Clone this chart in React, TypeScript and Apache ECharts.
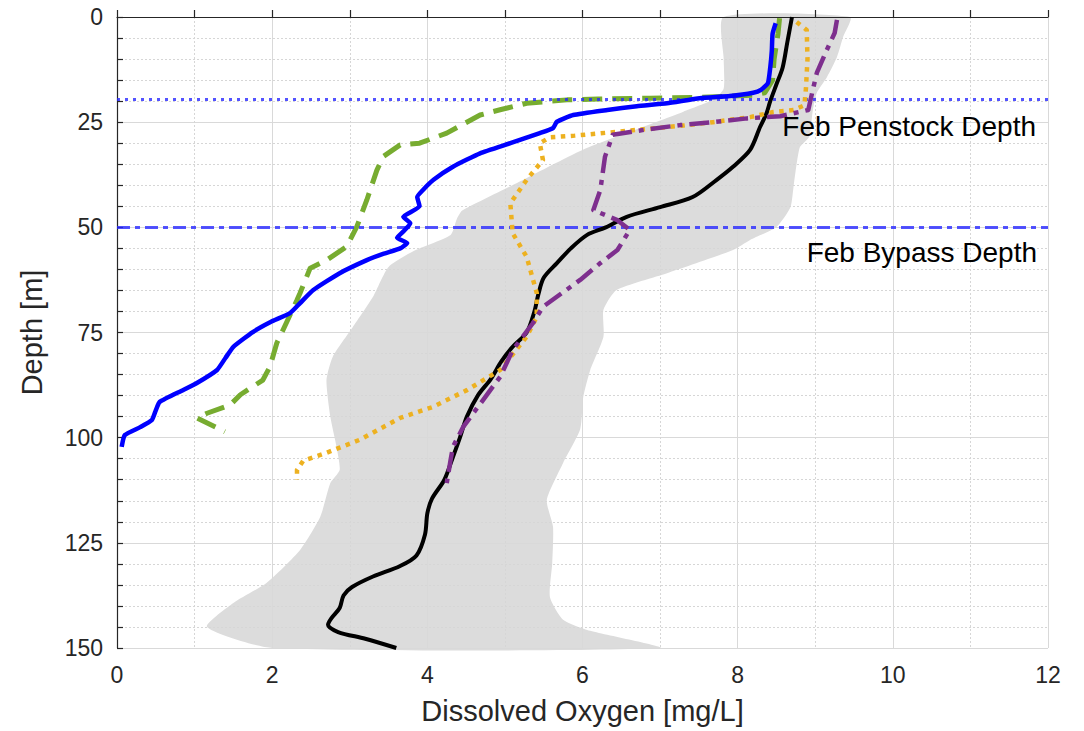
import React, { useEffect, useRef } from "react";
import * as echarts from "echarts";

// [dissolved oxygen mg/L, depth m]
const meanProfile: number[][] = [
  [8.7, 0], [8.64, 6], [8.58, 12], [8.5, 16], [8.42, 20], [8.37, 23], [8.29, 26.1], [8.16, 31.6],
  [7.94, 35.6], [7.73, 38.7], [7.42, 42.8], [7.0, 45.2], [6.57, 47.5], [6.3, 50], [6.06, 51.8],
  [5.85, 55], [5.67, 58.5], [5.5, 62], [5.43, 66], [5.38, 70], [5.28, 75], [5.1, 78.4], [4.95, 82],
  [4.82, 86], [4.65, 90], [4.51, 95], [4.42, 100], [4.33, 104.6], [4.22, 110], [4.06, 114.5],
  [4.0, 118], [3.97, 123], [3.86, 128], [3.65, 130.5], [3.3, 133], [3.03, 135.5], [2.92, 137.5],
  [2.87, 140.5], [2.76, 143], [2.72, 144.5], [2.85, 146.2], [3.2, 147.8], [3.6, 150],
];

const blueProfile: number[][] = [
  [8.49, 1.5], [8.45, 4], [8.44, 8], [8.42, 12], [8.39, 15.7], [8.3, 17.3], [8.2, 18], [7.9, 18.8],
  [7.51, 19.3], [7.09, 20.5], [6.7, 21.2], [6.32, 22.1], [5.88, 23.3], [5.67, 24.9], [5.62, 26.4],
  [5.45, 27.6], [5.07, 30], [4.68, 32.4], [4.33, 35.6], [4.08, 38.7], [3.95, 41], [3.87, 42.8],
  [3.9, 45], [3.69, 47.5], [3.78, 49], [3.69, 51], [3.61, 52.5], [3.74, 53.7], [3.65, 55],
  [3.43, 56.3], [3.22, 57.8], [2.87, 60.9], [2.53, 64.9], [2.36, 68], [2.23, 70.4], [1.98, 72.5],
  [1.75, 74.9], [1.5, 78.4], [1.4, 81], [1.29, 83.9], [1.03, 87], [0.85, 88.7], [0.55, 91.5],
  [0.5, 93.5], [0.45, 95.8], [0.3, 97.5], [0.1, 99.4], [0.06, 102.2],
];

const greenProfile: number[][] = [
  [8.54, 0.3], [8.52, 4], [8.47, 10], [8.45, 15], [8.35, 18], [8.2, 18.6], [7.5, 19.1], [6.87, 19.3],
  [6.2, 19.5], [5.8, 19.7], [5.28, 20.5], [4.95, 22], [4.68, 23.3], [4.25, 27.6], [3.9, 30],
  [3.65, 30.4], [3.43, 33.2], [3.35, 36.4], [3.22, 43.5], [3.09, 49.9], [2.96, 54.6], [2.7, 57.8],
  [2.49, 59.7], [2.36, 65.6], [2.32, 67.3], [2.14, 74.4], [2.06, 77.5], [1.97, 83.2], [1.88, 86.3],
  [1.59, 89.8], [1.46, 92.2], [1.16, 94.2], [1.03, 95.3], [1.39, 98.6],
];

const orangeProfile: number[][] = [
  [8.76, 1.2], [8.89, 3.1], [8.9, 10], [8.88, 17], [8.86, 21], [8.72, 22.1], [8.46, 22.6],
  [8.16, 23.8], [7.68, 25], [7.3, 25.8], [6.44, 27.3], [5.9, 28.2], [5.58, 28.6], [5.45, 30],
  [5.49, 34], [5.28, 38.7], [5.07, 44.3], [5.1, 51.4], [5.28, 57], [5.41, 65.6], [5.41, 71.3],
  [5.28, 76], [4.94, 83.9], [4.51, 88.7], [4.07, 92.7], [3.65, 95.3], [3.13, 100.5], [2.7, 103.6],
  [2.4, 105.5], [2.32, 107.7], [2.32, 110],
];

const purpleProfile: number[][] = [
  [9.28, 0.7], [9.25, 3.8], [9.15, 7.8], [9.02, 13.3], [8.96, 18], [8.91, 22.1], [8.55, 23.6],
  [8.12, 24.1], [7.68, 25], [7.26, 25.7], [6.8, 26.8], [6.39, 28], [6.29, 33.2], [6.23, 41.1],
  [6.14, 45.9], [6.45, 48.3], [6.61, 50.6], [6.45, 55.4], [6.23, 58.5], [5.97, 62.5], [5.49, 68.9],
  [5.36, 72.8], [5.1, 79.2], [4.94, 85.5], [4.72, 91], [4.46, 97.5], [4.33, 102.2], [4.3, 105.3],
  [4.25, 110.8],
];

const bandLeft: number[][] = [
  [7.82, 0], [7.82, 10], [7.82, 17], [7.7, 19.5], [7.3, 22.5], [6.8, 26], [6.0, 31.6], [5.15, 39.5],
  [4.45, 46], [4.38, 48], [4.3, 51.8], [3.85, 55.4], [3.5, 59.4], [3.3, 66.5], [3.04, 73.7],
  [2.78, 80.8], [2.7, 86.3], [2.75, 95], [2.83, 102.2], [2.87, 107.7], [2.75, 110.8], [2.62, 118.8],
  [2.36, 126.7], [1.93, 134.5], [1.5, 139.3], [1.16, 145], [2.0, 150],
];

const bandRight: number[][] = [
  [7.0, 150], [6.06, 145.7], [5.75, 143.3], [5.58, 137.9], [5.61, 129.8], [5.62, 121.2],
  [5.54, 114.8], [5.75, 106], [5.97, 98], [6.01, 90.3], [6.1, 83.9], [6.27, 76], [6.27, 69.6],
  [6.44, 64.9], [7.09, 60.9], [7.94, 55.4], [8.16, 53], [8.5, 49.9], [8.68, 45.2], [8.72, 40.4],
  [8.8, 31], [8.92, 28.5], [8.97, 22], [9.02, 18], [9.15, 14.3], [9.28, 9.5], [9.36, 4.7], [9.45, 0],
];

const penstockDepth = 19.5;
const bypassDepth = 50;
const penstockLabel = "Feb Penstock Depth";
const bypassLabel = "Feb Bypass Depth";

const xName = "Dissolved Oxygen [mg/L]";
const yName = "Depth [m]";

const FONT = "'Liberation Sans', Arial, Helvetica, sans-serif";
const AX = "#262626";

export default function App() {
  const ref = useRef<HTMLDivElement>(null);

  useEffect(() => {
    if (!ref.current) return;
    const chart = echarts.init(ref.current, undefined, { renderer: "svg" });
    const bandPoly = [...bandLeft, ...bandRight];

    const lineSeries = (
      data: number[][],
      color: string,
      width: number,
      type: any,
      z: number,
      smooth: number | boolean = false
    ) => ({
      type: "line",
      data,
      showSymbol: false,
      symbol: "none",
      smooth,
      z,
      lineStyle: { color, width, type, cap: "butt", join: "round" },
    });

    chart.setOption({
      animation: false,
      textStyle: { fontFamily: FONT },
      grid: { left: 117, right: 36, top: 17, bottom: 83, containLabel: false },
      xAxis: {
        type: "value",
        min: 0,
        max: 12,
        interval: 2,
        name: xName,
        nameLocation: "middle",
        nameGap: 48,
        nameTextStyle: { fontSize: 29, color: AX, fontFamily: FONT },
        axisLine: { show: true, lineStyle: { color: AX, width: 1.2 } },
        axisTick: { show: true, inside: true, length: 7, lineStyle: { color: AX, width: 1.2 } },
        minorTick: { show: true, splitNumber: 2, length: 7, lineStyle: { color: AX, width: 1.2 } },
        axisLabel: { fontSize: 23, color: AX, margin: 15, fontFamily: FONT },
        splitLine: { show: true, lineStyle: { color: "#d9d9d9", width: 1 } },
        minorSplitLine: { show: true, lineStyle: { color: "#d6d6d6", width: 1, type: [2, 2] } },
      },
      yAxis: {
        type: "value",
        inverse: true,
        min: 0,
        max: 150,
        interval: 25,
        name: yName,
        nameLocation: "middle",
        nameGap: 71,
        nameTextStyle: { fontSize: 29, color: AX, fontFamily: FONT },
        axisLine: { show: true, lineStyle: { color: AX, width: 1.2 } },
        axisTick: { show: true, inside: true, length: 6, lineStyle: { color: AX, width: 1.2 } },
        minorTick: { show: true, splitNumber: 5, length: 6, lineStyle: { color: AX, width: 1.2 } },
        axisLabel: { fontSize: 23, color: AX, margin: 14, fontFamily: FONT },
        splitLine: { show: true, lineStyle: { color: "#d9d9d9", width: 1 } },
        minorSplitLine: { show: true, lineStyle: { color: "#d6d6d6", width: 1, type: [2, 2] } },
      },
      series: [
        {
          type: "custom",
          z: -1,
          silent: true,
          data: [[0, 0]],
          renderItem: (_params: any, api: any) => ({
            type: "polygon",
            shape: { points: bandPoly.map((p) => api.coord(p)), smooth: 0.2 },
            style: { fill: "#dcdcdc", stroke: "none" },
          }),
        },
        {
          type: "line",
          data: [],
          z: 3,
          markLine: {
            silent: true,
            symbol: "none",
            label: { show: false },
            data: [
              { yAxis: penstockDepth, lineStyle: { color: "rgba(40,40,255,0.8)", width: 3, type: [3, 5] } },
              { yAxis: bypassDepth, lineStyle: { color: "rgba(40,40,255,0.8)", width: 3, type: [13, 5, 5, 5] } },
            ],
          },
        },
        lineSeries(greenProfile, "#77AC30", 5, [20, 10], 4),
        lineSeries(blueProfile, "#0000FF", 4.5, "solid", 5, 0.15),
        lineSeries(meanProfile, "#000000", 4, "solid", 6, 0.3),
        lineSeries(orangeProfile, "#EDB120", 4.5, [4.5, 5.5], 7),
        lineSeries(purpleProfile, "#7E2F8E", 4.5, [20, 7, 5, 7], 8),
      ],
      graphic: [
        {
          type: "text",
          right: 48,
          top: 112,
          z: 100,
          style: { text: penstockLabel, fontSize: 28, fill: "#000", fontFamily: FONT },
        },
        {
          type: "text",
          right: 47,
          top: 238,
          z: 100,
          style: { text: bypassLabel, fontSize: 28, fill: "#000", fontFamily: FONT },
        },
      ],
    });
    return () => chart.dispose();
  }, []);

  return (
    <div
      ref={ref}
      style={{ position: "fixed", left: 0, top: 0, width: 1084, height: 731, background: "#fff" }}
    />
  );
}
